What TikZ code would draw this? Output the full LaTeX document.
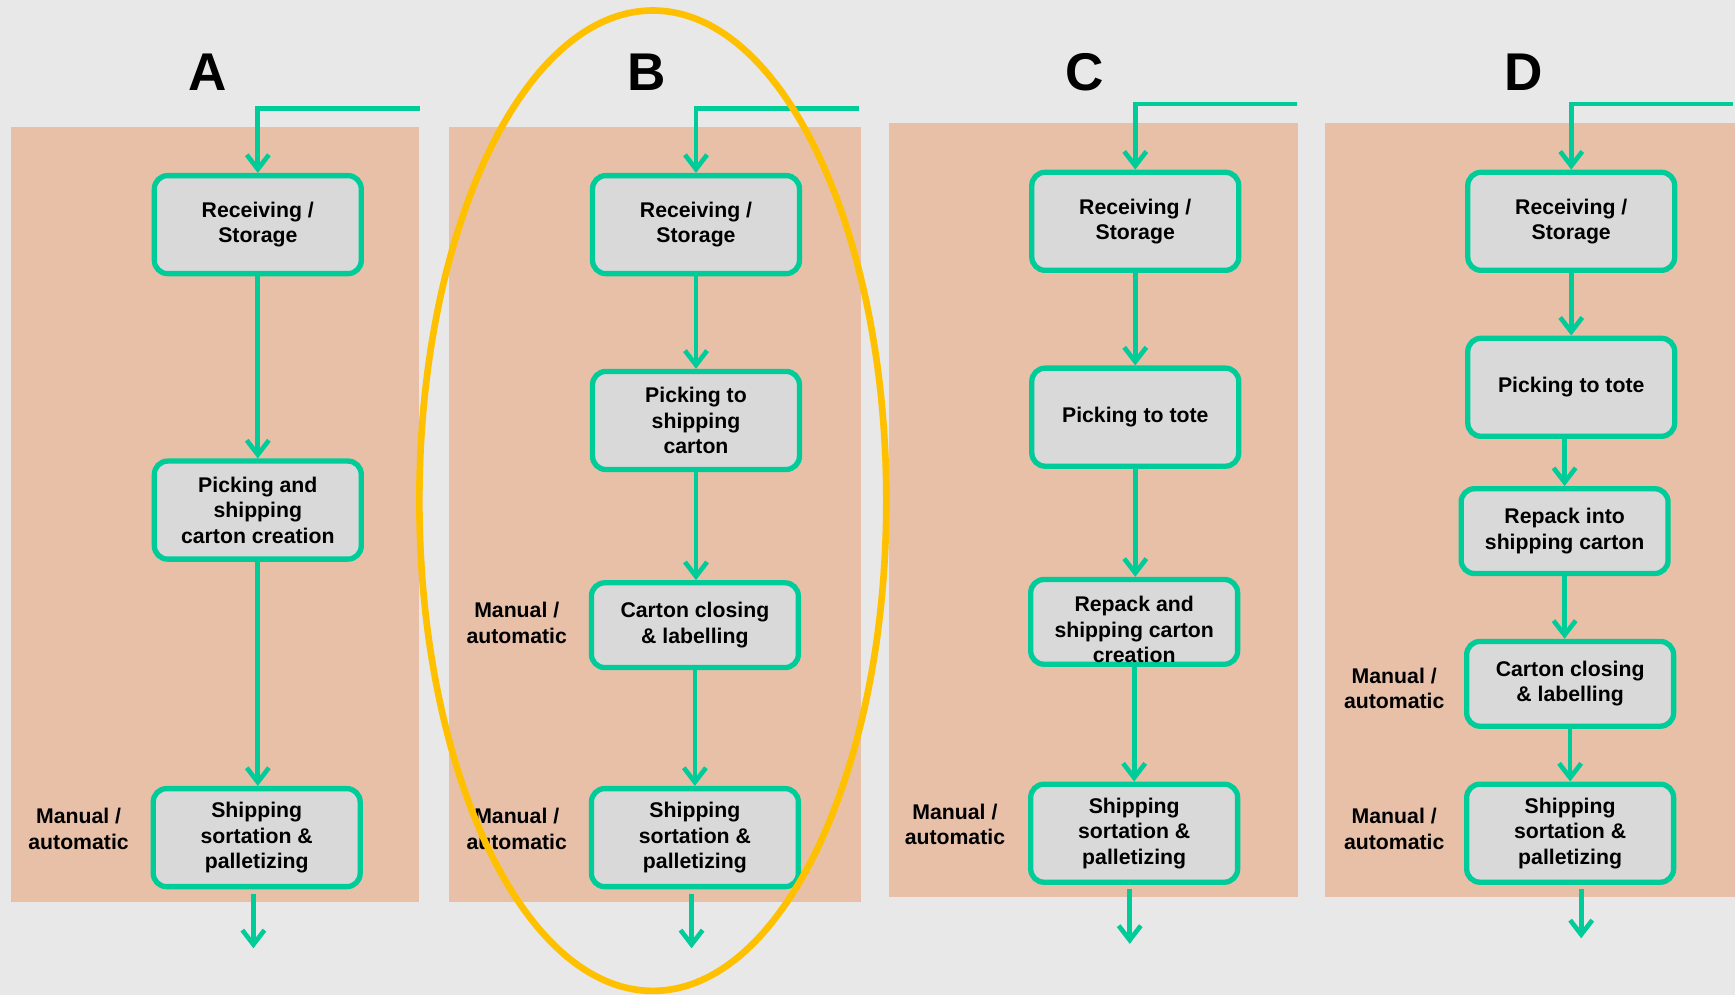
\documentclass[tikz,border=0pt]{standalone}
\usepackage{fontspec}
\setmainfont{Liberation Sans}
\usetikzlibrary{arrows.meta,calc}
\definecolor{bgc}{HTML}{E8E8E8}
\definecolor{panelc}{HTML}{E8C0A8}
\definecolor{boxc}{HTML}{D9D9D9}
\definecolor{grn}{HTML}{00CC99}
\definecolor{ellc}{HTML}{FFC000}
\begin{document}
\begin{tikzpicture}[x=0.5pt,y=-0.5pt,
  panel/.style={fill=panelc},
  box/.style={draw=grn, line width=2.4pt, fill=boxc, rounded corners=6pt,
    minimum width=93.5pt, minimum height=44.3pt, align=center, inner sep=1pt,
    font=\bfseries\fontsize{9.6pt}{11.5pt}\selectfont},
  shortbox/.style={box, minimum height=38.3pt},
  boxtext/.style={align=center, inner sep=0pt, font=\bfseries\fontsize{9.6pt}{11.5pt}\selectfont},
  lab/.style={align=center, inner sep=0pt, font=\bfseries\fontsize{9.6pt}{11.5pt}\selectfont},
  letter/.style={inner sep=0pt, font=\bfseries\fontsize{24pt}{28pt}\selectfont},
  flow/.style={draw=grn, line width=2.1pt, -{Straight Barb[length=6.5pt,width=10pt]}},
  ell/.style={draw=ellc, line width=3pt}]
\fill[bgc] (0,0) rectangle (1568,899);
\useasboundingbox (0,0) rectangle (1568,899);
% panels
\fill[panel] (10,115) rectangle (379,815);
\fill[panel] (406,115) rectangle (778,815);
\fill[panel] (803,111) rectangle (1173,811);
\fill[panel] (1197,111) rectangle (1568,811);
% letters
\node[letter] (la) at (188,65) {A};
\node[letter] (lb) at (584,65) {B};
\node[letter] (lc) at (980,65) {C};
\node[letter] (ld) at (1377,65) {D};
% ---- A
\node[box] (a1) at (233,203) {Receiving /\\Storage};
\node[box] (a2) at (233,461) {Picking and\\shipping\\carton creation};
\node[box] (a3) at (232,757) {Shipping\\sortation \&\\palletizing};
\node[lab] (la3) at (71,749) {Manual /\\automatic};
\coordinate (ain) at (380,98);
\coordinate (aout) at (229,857);
\draw[flow] (ain) -| (a1.north);
\draw[flow] (a1.south) -- (a1.south |- a2.north);
\draw[flow] (a2.south) -- (a2.south |- a3.north);
\draw[flow] ([yshift=-2pt]a3.south -| aout) -- (aout);
% ---- B
\node[box] (b1) at (629,203) {Receiving /\\Storage};
\node[box] (b2) at (629,380) {Picking to\\shipping\\carton};
\node[shortbox] (b3) at (628,565) {Carton closing\\\& labelling};
\node[box] (b4) at (628,757) {Shipping\\sortation \&\\palletizing};
\node[lab] (lb3) at (467,563) {Manual /\\automatic};
\node[lab] (lb4) at (467,749) {Manual /\\automatic};
\coordinate (bin) at (776,98);
\coordinate (bout) at (625,857);
\draw[flow] (bin) -| (b1.north);
\draw[flow] (b1.south) -- (b1.south |- b2.north);
\draw[flow] (b2.south) -- (b2.south |- b3.north);
\draw[flow] (b3.south) -- (b3.south |- b4.north);
\draw[flow] ([yshift=-2pt]b4.south -| bout) -- (bout);
% ---- C
\node[box] (c1) at (1026,200) {Receiving /\\Storage};
\node[box] (c2) at (1026,377) {Picking to tote};
\node[shortbox] (c3) at (1025,562) {};
\node[boxtext] (c3t) at (1025,569) {Repack and\\shipping carton\\creation};
\node[box] (c4) at (1025,753) {Shipping\\sortation \&\\palletizing};
\node[lab] (lc4) at (863,745) {Manual /\\automatic};
\coordinate (cin) at (1172,94);
\coordinate (cout) at (1021,853);
\draw[flow] (cin) -| (c1.north);
\draw[flow] (c1.south) -- (c1.south |- c2.north);
\draw[flow] (c2.south) -- (c2.south |- c3.north);
\draw[flow] (c3.south) -- (c3.south |- c4.north);
\draw[flow] ([yshift=-2pt]c4.south -| cout) -- (cout);
% ---- D
\node[box] (d1) at (1420,200) {Receiving /\\Storage};
\node[box] (d2) at (1420,350) {Picking to tote};
\node[shortbox] (d3) at (1414,480) {Repack into\\shipping carton};
\node[shortbox] (d4) at (1419,618) {Carton closing\\\& labelling};
\node[box] (d5) at (1419,753) {Shipping\\sortation \&\\palletizing};
\node[lab] (ld4) at (1260,622) {Manual /\\automatic};
\node[lab] (ld5) at (1260,749) {Manual /\\automatic};
\coordinate (din) at (1566,94);
\coordinate (dout) at (1429,848);
\draw[flow] (din) -| (d1.north);
\draw[flow] (d1.south) -- (d1.south |- d2.north);
\draw[flow] (d2.south -| d3.north) -- (d3.north);
\draw[flow] (d3.south) -- (d3.south |- d4.north);
\draw[flow] (d4.south) -- (d4.south |- d5.north);
\draw[flow] ([yshift=-2pt]d5.south -| dout) -- (dout);
% ellipse
\draw[ell] (590,452.5) ellipse [x radius=105.5pt, y radius=221.5pt];
\end{tikzpicture}
\end{document}
